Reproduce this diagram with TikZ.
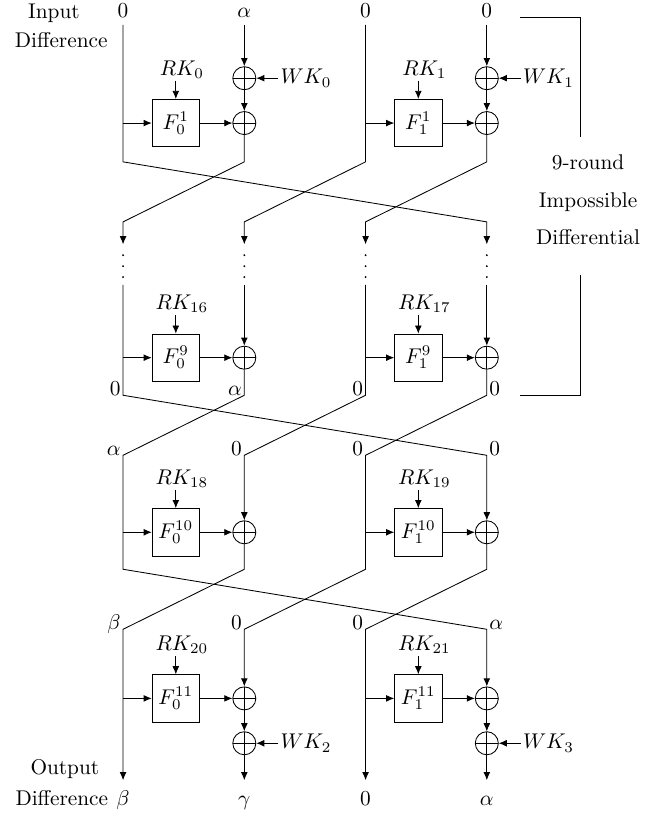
\documentclass[tikz,border=0pt]{standalone}
\usepackage{amsmath}
\usetikzlibrary{arrows.meta,positioning,calc}

\begin{document}
\begin{tikzpicture}[
    fbx/.style={draw, minimum width=0.78cm, minimum height=0.78cm, inner sep=0pt},
    xr/.style={draw, circle, minimum size=0.38cm, inner sep=0pt,
        path picture={\draw (path picture bounding box.north) -- (path picture bounding box.south)
            (path picture bounding box.west) -- (path picture bounding box.east);}},
    arr/.style={-{Latex[length=3.8pt,width=3.2pt]}},
    lbl/.style={inner sep=1pt}
]
\useasboundingbox (-0.03,0) rectangle (10.63,-13.46);

% corner points of the four branches
\foreach \n/\y in {t/-0.41, a/-2.67, b/-3.66, d/-4.03, e/-4.70, g/-6.52, h/-7.51, k/-9.39, m/-10.38, o/-12.87}
  \foreach \i in {1,...,4}
    \coordinate (\n\i) at (2*\i,\y);

% input / output text
\node[anchor=base] (inp) at (0.86,-0.30) {Input};
\node[anchor=base] (indiff) at (0.98,-0.79) {Difference};
\node[lbl, above=2.3pt of t1] (in1) {$0$};
\node[lbl, above=2.3pt of t2] (in2) {$\alpha$};
\node[lbl, above=2.3pt of t3] (in3) {$0$};
\node[lbl, above=2.3pt of t4] (in4) {$0$};

\node[lbl, anchor=base] (ob1) at (2,-13.28) {$\beta$};
\node[lbl, anchor=base] (ob2) at (4,-13.28) {$\gamma$};
\node[lbl, anchor=base] (ob3) at (6,-13.28) {$0$};
\node[lbl, anchor=base] (ob4) at (8,-13.28) {$\alpha$};
\node[lbl, base left=1.5pt of ob1] (outdiff) {Difference};
\node[anchor=base] (outp) at (1.04,-12.77) {Output};

% round 1
\node[xr] (wx0) at (4,-1.29) {};
\node[xr] (x01) at (4,-2.03) {};
\node[fbx] (f01) at (2.87,-2.03) {$F_0^1$};
\node[lbl, above=0.3cm of f01, xshift=0.1cm] (rk0) {$RK_0$};
\node[lbl, right=0.36cm of wx0] (wk0) {$WK_0$};
\node[xr] (wx1) at (8,-1.29) {};
\node[xr] (x11) at (8,-2.03) {};
\node[fbx] (f11) at (6.87,-2.03) {$F_1^1$};
\node[lbl, above=0.3cm of f11, xshift=0.1cm] (rk1) {$RK_1$};
\node[lbl, right=0.36cm of wx1] (wk1) {$WK_1$};

% round 9
\node[xr] (x09) at (4,-5.90) {};
\node[fbx] (f09) at (2.87,-5.90) {$F_0^9$};
\node[lbl, above=0.3cm of f09, xshift=0.1cm] (rk16) {$RK_{16}$};
\node[xr] (x19) at (8,-5.90) {};
\node[fbx] (f19) at (6.87,-5.90) {$F_1^9$};
\node[lbl, above=0.3cm of f19, xshift=0.1cm] (rk17) {$RK_{17}$};

% round 10
\node[xr] (x010) at (4,-8.78) {};
\node[fbx] (f010) at (2.87,-8.78) {$F_0^{10}$};
\node[lbl, above=0.3cm of f010, xshift=0.1cm] (rk18) {$RK_{18}$};
\node[xr] (x110) at (8,-8.78) {};
\node[fbx] (f110) at (6.87,-8.78) {$F_1^{10}$};
\node[lbl, above=0.3cm of f110, xshift=0.1cm] (rk19) {$RK_{19}$};

% round 11
\node[xr] (x011) at (4,-11.52) {};
\node[xr] (wx2) at (4,-12.26) {};
\node[fbx] (f011) at (2.87,-11.52) {$F_0^{11}$};
\node[lbl, above=0.3cm of f011, xshift=0.1cm] (rk20) {$RK_{20}$};
\node[lbl, right=0.36cm of wx2] (wk2) {$WK_2$};
\node[xr] (x111) at (8,-11.52) {};
\node[xr] (wx3) at (8,-12.26) {};
\node[fbx] (f111) at (6.87,-11.52) {$F_1^{11}$};
\node[lbl, above=0.3cm of f111, xshift=0.1cm] (rk21) {$RK_{21}$};
\node[lbl, right=0.36cm of wx3] (wk3) {$WK_3$};

% round 1 wiring
\draw[arr] (t1) -- (a1) -- (b4) -- (d4);
\draw[arr] (t2) -- (wx0);
\draw[arr] (wx0) -- (x01);
\draw[arr] (x01) -- (a2) -- (b1) -- (d1);
\draw[arr] (t3) -- (a3) -- (b2) -- (d2);
\draw[arr] (t4) -- (wx1);
\draw[arr] (wx1) -- (x11);
\draw[arr] (x11) -- (a4) -- (b3) -- (d3);
\draw[arr] (f01.west -| t1) -- (f01);
\draw[arr] (f01) -- (x01);
\draw[arr] (f11.west -| t3) -- (f11);
\draw[arr] (f11) -- (x11);
\draw[arr] (f01.north |- rk0.south) -- (f01);
\draw[arr] (f11.north |- rk1.south) -- (f11);
\draw[arr] (wk0) -- (wx0);
\draw[arr] (wk1) -- (wx1);

% skipped rounds
\foreach \i in {1,...,4}
  \fill (2*\i,-4.21) circle (0.5pt) (2*\i,-4.39) circle (0.5pt) (2*\i,-4.57) circle (0.5pt);

% rounds 9 to 11 wiring
\draw[arr] (e1) -- (g1) -- (h4) -- (x110);
\draw[arr] (e2) -- (x09);
\draw[arr] (x09) -- (g2) -- (h1) -- (k1) -- (m4) -- (x111);
\draw[arr] (e3) -- (g3) -- (h2) -- (x010);
\draw[arr] (e4) -- (x19);
\draw[arr] (x19) -- (g4) -- (h3) -- (k3) -- (m2) -- (x011);
\draw[arr] (x010) -- (k2) -- (m1) -- (o1);
\draw[arr] (x110) -- (k4) -- (m3) -- (o3);
\draw[arr] (x011) -- (wx2);
\draw[arr] (wx2) -- (o2);
\draw[arr] (x111) -- (wx3);
\draw[arr] (wx3) -- (o4);
\draw[arr] (wk2) -- (wx2);
\draw[arr] (wk3) -- (wx3);

\draw[arr] (f09.west -| e1) -- (f09);
\draw[arr] (f09) -- (x09);
\draw[arr] (f19.west -| e3) -- (f19);
\draw[arr] (f19) -- (x19);
\draw[arr] (f010.west -| h1) -- (f010);
\draw[arr] (f010) -- (x010);
\draw[arr] (f110.west -| h3) -- (f110);
\draw[arr] (f110) -- (x110);
\draw[arr] (f011.west -| m1) -- (f011);
\draw[arr] (f011) -- (x011);
\draw[arr] (f111.west -| m3) -- (f111);
\draw[arr] (f111) -- (x111);

\draw[arr] (f09.north |- rk16.south) -- (f09);
\draw[arr] (f19.north |- rk17.south) -- (f19);
\draw[arr] (f010.north |- rk18.south) -- (f010);
\draw[arr] (f110.north |- rk19.south) -- (f110);
\draw[arr] (f011.north |- rk20.south) -- (f011);
\draw[arr] (f111.north |- rk21.south) -- (f111);

% values between rounds
\node[lbl, anchor=base east] (gl1) at (g1) {$0$};
\node[lbl, anchor=base east] (gl2) at (g2) {$\alpha$};
\node[lbl, anchor=base east] (gl3) at (g3) {$0$};
\node[lbl, anchor=base west] (gl4) at (g4) {$0$};
\node[lbl, anchor=base east] (hl1) at (h1) {$\alpha$};
\node[lbl, anchor=base east] (hl2) at (h2) {$0$};
\node[lbl, anchor=base east] (hl3) at (h3) {$0$};
\node[lbl, anchor=base west] (hl4) at (h4) {$0$};
\node[lbl, anchor=base east] (ml1) at (m1) {$\beta$};
\node[lbl, anchor=base east] (ml2) at (m2) {$0$};
\node[lbl, anchor=base east] (ml3) at (m3) {$0$};
\node[lbl, anchor=base west] (ml4) at (m4) {$\alpha$};

% bracket for the distinguisher
\coordinate (br1) at (8.55,-0.28);
\coordinate (br2) at (9.54,-2.26);
\coordinate (br3) at (9.54,-4.54);
\coordinate (br4) at (8.55,-6.53);
\draw (br1) -| (br2);
\draw (br3) |- (br4);
\node[anchor=base] (imp1) at (9.67,-2.79) {9-round};
\node[anchor=base] (imp2) at (9.67,-3.42) {Impossible};
\node[anchor=base] (imp3) at (9.67,-4.04) {Differential};
\end{tikzpicture}
\end{document}
